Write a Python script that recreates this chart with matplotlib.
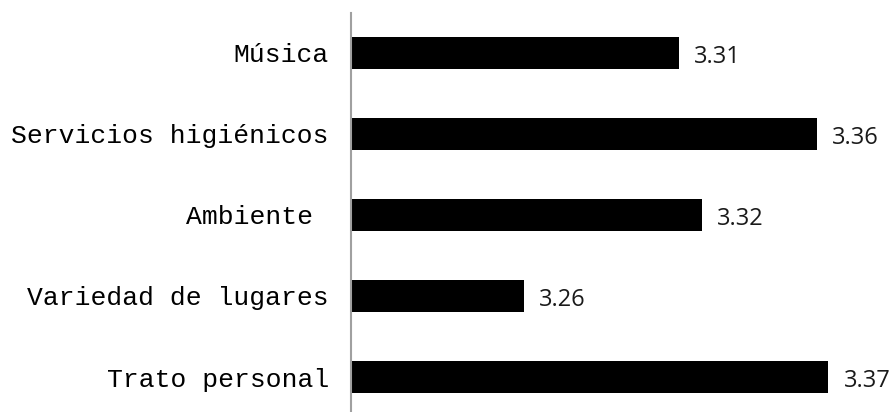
import matplotlib
matplotlib.use("Agg")
import matplotlib.pyplot as plt

categories = ["Música", "Servicios higiénicos", "Ambiente ", "Variedad de lugares", "Trato personal"]
values = [3.314, 3.362, 3.322, 3.26, 3.366]
axis_min = 3.2

W, H = 894, 412
fig = plt.figure(figsize=(W / 100, H / 100), dpi=100)
left_px, top_px = 351, 12.5
bottom_px = 417.5
ax = fig.add_axes([left_px / W, (H - bottom_px) / H, 1 - left_px / W, (bottom_px - top_px) / H])

ypos = list(range(len(categories)))
ax.barh(ypos, values, height=0.395, color="black", left=0)
ax.set_xlim(axis_min, axis_min + (W - left_px) / 2875)
ax.set_ylim(len(categories) - 0.5, -0.5)

for y, v in zip(ypos, values):
    ax.annotate(f"{v:.2f}", xy=(v, y), xytext=(11, -3), textcoords="offset points",
                ha="left", va="center", fontsize=17, family="Open Sans", color="#1a1a1a")

ax.set_yticks(ypos)
ax.set_yticklabels(categories, family="Liberation Mono", fontsize=19)
ax.tick_params(axis="y", length=0, pad=16)
ax.set_xticks([])
for s in ["top", "right", "bottom"]:
    ax.spines[s].set_visible(False)
ax.spines["left"].set_color("#a0a0a0")
ax.spines["left"].set_linewidth(1.5)
ax.spines["left"].set_zorder(5)

fig.savefig("out.png", dpi=100)
